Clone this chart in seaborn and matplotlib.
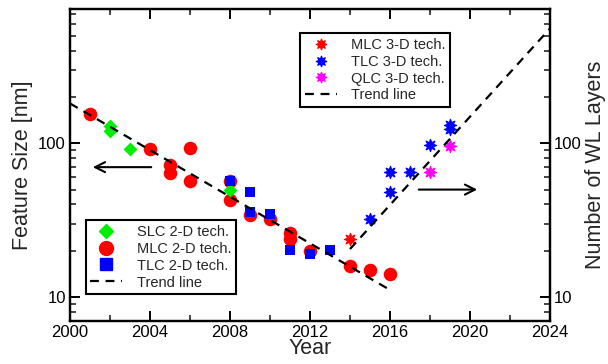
import matplotlib
matplotlib.use("Agg")
import matplotlib.pyplot as plt
import matplotlib.ticker as mticker
from matplotlib.lines import Line2D
import seaborn as sns
import pandas as pd

# ---- data ----
slc2d_year = [2002, 2002, 2003, 2008]
slc2d_val = [130, 120, 92, 50]
mlc2d_year = [2001, 2004, 2005, 2005, 2006, 2006, 2008, 2008, 2009, 2010, 2011, 2011, 2012, 2014, 2015, 2016]
mlc2d_val = [155, 92, 72, 64, 93, 57, 57, 43, 34, 32, 26, 24, 20, 16, 15, 14]
tlc2d_year = [2008, 2009, 2009, 2010, 2011, 2012, 2013]
tlc2d_val = [57, 48.5, 35.5, 34.5, 20.2, 19, 20.2]
mlc3d_year = [2014]
mlc3d_val = [24]
tlc3d_year = [2015, 2016, 2016, 2017, 2018, 2019, 2019]
tlc3d_val = [32, 48.5, 65, 65, 97, 132, 124]
qlc3d_year = [2018, 2019]
qlc3d_val = [65, 96]
trend2d_year = [2000, 2016]
trend2d_val = [182, 11.1]
trend3d_year = [2014, 2024]
trend3d_val = [20.5, 560]

sns.set_theme(style="ticks")
plt.rcParams['font.family'] = ['Liberation Sans', 'DejaVu Sans']

fig = plt.figure(figsize=(6.08, 3.64), dpi=100)
ax = fig.add_axes([70/608, 1-320.7/364, 480/608, (320.7-9)/364])
ax2 = ax.twinx()

RED, BLUE, GREEN, MAG = "#ff0000", "#0000ff", "#00ee00", "#ff00ff"
star = (8, 1, 0)

def df(x, y):
    return pd.DataFrame({"year": x, "val": y})

sns.scatterplot(data=df(mlc2d_year, mlc2d_val), x="year", y="val", ax=ax, color=RED,
                marker="o", s=95, linewidth=0, zorder=3)
sns.scatterplot(data=df(slc2d_year, slc2d_val), x="year", y="val", ax=ax, color=GREEN,
                marker="D", s=50, linewidth=0, zorder=3)
sns.scatterplot(data=df(tlc2d_year, tlc2d_val), x="year", y="val", ax=ax, color=BLUE,
                marker="s", s=60, linewidth=0, zorder=3)
sns.lineplot(data=df(trend2d_year, trend2d_val), x="year", y="val", ax=ax, color="black",
             lw=1.6, dashes=(4, 3), zorder=4)

sns.scatterplot(data=df(mlc3d_year, mlc3d_val), x="year", y="val", ax=ax2, color=RED,
                marker=star, s=80, linewidth=0.8, edgecolor=RED, zorder=3)
sns.scatterplot(data=df(tlc3d_year, tlc3d_val), x="year", y="val", ax=ax2, color=BLUE,
                marker=star, s=80, linewidth=0.8, edgecolor=BLUE, zorder=3)
sns.scatterplot(data=df(qlc3d_year, qlc3d_val), x="year", y="val", ax=ax2, color=MAG,
                marker=star, s=80, linewidth=0.8, edgecolor=MAG, zorder=3)
sns.lineplot(data=df(trend3d_year, trend3d_val), x="year", y="val", ax=ax2, color="black",
             lw=1.6, dashes=(4, 3), zorder=4)

for a in (ax, ax2):
    a.set_yscale("log")
    a.set_ylim(7, 750)
    a.set_xlim(2000, 2024)
    a.yaxis.set_major_formatter(mticker.FuncFormatter(lambda v, p: f"{v:g}"))
    a.yaxis.set_minor_formatter(mticker.NullFormatter())
    for s in a.spines.values():
        s.set_linewidth(1.6)
        s.set_color("black")

ax.xaxis.set_major_locator(mticker.MultipleLocator(4))
ax.xaxis.set_minor_locator(mticker.MultipleLocator(2))
ax.tick_params(axis="both", which="major", direction="in", length=7, width=1.4,
               labelsize=12, colors="black", top=True, pad=3)
ax.tick_params(axis="both", which="minor", direction="in", length=4, width=1.2, top=True)
ax.tick_params(axis="y", which="both", right=False)
ax2.tick_params(axis="y", which="major", direction="in", length=7, width=1.4, labelsize=12,
                colors="black", pad=3)
ax2.tick_params(axis="y", which="minor", direction="in", length=4, width=1.2)

ax.set_xlabel("Year", fontsize=15.5, labelpad=-1)
ax.set_ylabel("Feature Size [nm]", fontsize=15.5, labelpad=4)
ax2.set_ylabel("Number of WL Layers", fontsize=15.5, labelpad=2)

# arrows
ax.annotate("", xy=(2001.0, 70), xytext=(2004.2, 70),
            arrowprops=dict(arrowstyle="->", lw=1.5, color="black", mutation_scale=18))
ax2.annotate("", xy=(2020.5, 50), xytext=(2017.3, 50),
             arrowprops=dict(arrowstyle="->", lw=1.5, color="black", mutation_scale=18))

# legends
h1 = [Line2D([], [], ls="", marker="D", color=GREEN, ms=7),
      Line2D([], [], ls="", marker="o", color=RED, ms=10),
      Line2D([], [], ls="", marker="s", color=BLUE, ms=8),
      Line2D([], [], ls=(0, (4, 3)), color="black", lw=1.6)]
l1 = ax.legend(h1, ["SLC 2-D tech.", "MLC 2-D tech.", "TLC 2-D tech.", "Trend line"],
               loc="lower left", bbox_to_anchor=(0.033, 0.086), fontsize=10.5,
               frameon=True, fancybox=False, edgecolor="black", framealpha=1,
               handlelength=2.2, handletextpad=1.0, borderpad=0.3, labelspacing=0.2,
               borderaxespad=0)
l1.get_frame().set_linewidth(1.5)
l1.set_zorder(10)

h2 = [Line2D([], [], ls="", marker=star, color=RED, ms=8, mew=0.8),
      Line2D([], [], ls="", marker=star, color=BLUE, ms=8, mew=0.8),
      Line2D([], [], ls="", marker=star, color=MAG, ms=8, mew=0.8),
      Line2D([], [], ls=(0, (4, 3)), color="black", lw=1.6)]
l2 = ax2.legend(h2, ["MLC 3-D tech.", "TLC 3-D tech.", "QLC 3-D tech.", "Trend line"],
                loc="upper right", bbox_to_anchor=(0.792, 0.922), fontsize=10.5,
                frameon=True, fancybox=False, edgecolor="black", framealpha=1,
                handlelength=2.2, handletextpad=1.0, borderpad=0.3, labelspacing=0.2,
                borderaxespad=0)
l2.get_frame().set_linewidth(1.5)

fig.savefig("out.png", dpi=100)
